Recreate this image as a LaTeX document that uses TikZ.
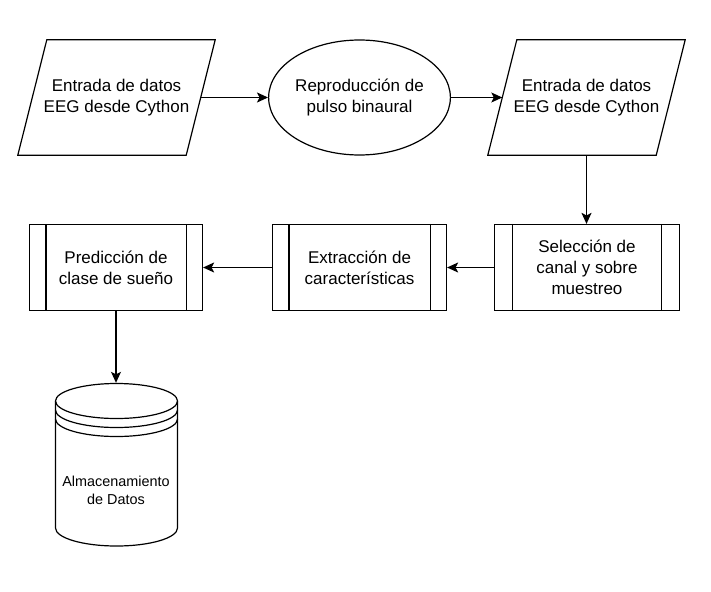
\documentclass[tikz,border=0pt]{standalone}
\usepackage{fontspec}
\setmainfont{Liberation Sans}
\usetikzlibrary{shapes.geometric,arrows.meta}
\tikzset{
  every node/.style={font=\fontsize{17}{21}\selectfont, align=center, inner sep=0pt},
  ln/.style={line width=1.2pt, draw=black},
  iobox/.style={rectangle, minimum width=168pt, minimum height=115pt},
  procbox/.style={rectangle, ln, minimum height=86pt},
  ovalbox/.style={ellipse, ln, minimum width=175pt, minimum height=115pt},
  dbbox/.style={rectangle, minimum width=122pt, minimum height=163pt},
  dbtext/.style={font=\fontsize{14.4}{18}\selectfont},
  conn/.style={ln, -{Stealth[length=11pt,width=10pt,inset=2.5pt]}}
}
\begin{document}
\begin{tikzpicture}[x=1pt,y=1pt]
\useasboundingbox (0,0) rectangle (711,-591);

% input/output parallelograms
\node[iobox] (p1) at (116.5,-97.5) {Entrada de datos\\EEG desde Cython};
\draw[ln] ([xshift=14.5pt]p1.north west) -- ([xshift=14.5pt]p1.north east)
  -- ([xshift=-14.5pt]p1.south east) -- ([xshift=-14.5pt]p1.south west) -- cycle;

\node[ovalbox] (el) at (359.5,-97.5) {Reproducción de\\pulso binaural};

\node[iobox] (p2) at (586.5,-97.5) {Entrada de datos\\EEG desde Cython};
\draw[ln] ([xshift=14.5pt]p2.north west) -- ([xshift=14.5pt]p2.north east)
  -- ([xshift=-14.5pt]p2.south east) -- ([xshift=-14.5pt]p2.south west) -- cycle;

% predefined processes
\node[procbox, minimum width=185pt] (b3) at (587,-267.5) {Selección de\\canal y sobre\\muestreo};
\draw[ln] ([xshift=18.5pt]b3.north west) -- ([xshift=18.5pt]b3.south west);
\draw[ln] ([xshift=-18.5pt]b3.north east) -- ([xshift=-18.5pt]b3.south east);

\node[procbox, minimum width=174pt] (b2) at (359.5,-267.5) {Extracción de\\características};
\draw[ln] ([xshift=17pt]b2.north west) -- ([xshift=17pt]b2.south west);
\draw[ln] ([xshift=-17pt]b2.north east) -- ([xshift=-17pt]b2.south east);

\node[procbox, minimum width=173pt] (b1) at (116,-267.5) {Predicción de\\clase de sueño};
\draw[ln] ([xshift=17pt]b1.north west) -- ([xshift=17pt]b1.south west);
\draw[ln] ([xshift=-17pt]b1.north east) -- ([xshift=-17pt]b1.south east);

% data store cylinder
\node[dbbox] (db) at (116.5,-464.5) {};
\node[dbtext] (dbt) at (116,-490) {Almacenamiento\\de Datos};
\draw[ln] (55.5,-401) -- (55.5,-528) arc[start angle=180,end angle=360,x radius=61pt,y radius=18pt] -- (177.5,-401);
\draw[ln] (116.5,-401) ellipse[x radius=61pt,y radius=17.5pt];
\draw[ln] (55.5,-410) arc[start angle=180,end angle=360,x radius=61pt,y radius=17.5pt];
\draw[ln] (55.5,-419) arc[start angle=180,end angle=360,x radius=61pt,y radius=17.5pt];

% connectors
\draw[conn] (p1.east) -- (el.west);
\draw[conn] (el.east) -- (p2.west);
\draw[conn] (p2.south) -- (p2.south |- b3.north);
\draw[conn] (b3.west) -- (b2.east);
\draw[conn] (b2.west) -- (b1.east);
\draw[conn] (b1.south) -- (b1.south |- db.north);
\end{tikzpicture}
\end{document}
